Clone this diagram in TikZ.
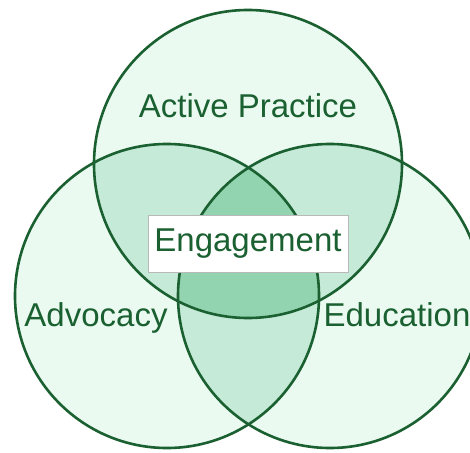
\documentclass[tikz,border=0pt]{standalone}
\usepackage{fontspec}
\setmainfont{Liberation Sans}
\definecolor{vennline}{HTML}{1A6030}
\definecolor{vennone}{HTML}{EAFAF1}
\definecolor{venntwo}{HTML}{C5EBD8}
\definecolor{vennthree}{HTML}{93D4B0}
\tikzset{
  ring/.style={draw=vennline, line width=2.6pt},
  vlabel/.style={text=vennline, font=\fontsize{33}{36}\selectfont, inner sep=0pt}
}
\begin{document}
\begin{tikzpicture}[x=1pt, y=-1pt]
  \useasboundingbox (0,0) rectangle (470,452);
  \clip (0,0) rectangle (470,452);
  % circle centres
  \coordinate (top) at (248,164);
  \coordinate (left) at (167,296);
  \coordinate (right) at (330,296);
  % shading: single, double and triple overlaps
  \fill[vennone] (top) circle (154pt) (left) circle (152pt) (right) circle (152pt);
  \begin{scope}
    \clip (top) circle (154pt);
    \fill[venntwo] (left) circle (152pt) (right) circle (152pt);
  \end{scope}
  \begin{scope}
    \clip (left) circle (152pt);
    \fill[venntwo] (right) circle (152pt);
  \end{scope}
  \begin{scope}
    \clip (top) circle (154pt);
    \clip (left) circle (152pt);
    \fill[vennthree] (right) circle (152pt);
  \end{scope}
  \draw[ring] (top) circle (154pt);
  \draw[ring] (left) circle (152pt);
  \draw[ring] (right) circle (152pt);
  % labels
  \node[vlabel, anchor=base] (practice) at (248,117) {Active Practice};
  \node[vlabel, anchor=base] (advocacy) at (96,326) {Advocacy};
  \node[vlabel, anchor=base] (education) at (397,326) {Education};
  \node[vlabel, fill=white, draw=gray!55, line width=1pt,
        minimum width=200pt, minimum height=57pt] (engage) at (248,244) {Engagement};
\end{tikzpicture}
\end{document}
